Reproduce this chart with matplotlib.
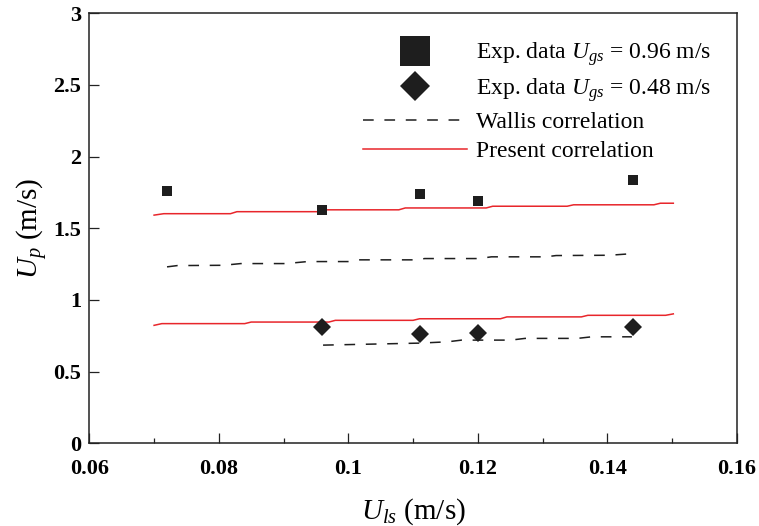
import matplotlib
matplotlib.use('Agg')
import matplotlib.pyplot as plt
from matplotlib.lines import Line2D
from matplotlib.ticker import MultipleLocator, FuncFormatter

plt.rcParams['font.family'] = ['Liberation Serif', 'DejaVu Serif']
plt.rcParams['mathtext.fontset'] = 'custom'
plt.rcParams['mathtext.rm'] = 'Liberation Serif'
plt.rcParams['mathtext.it'] = 'Liberation Serif:italic'

# experimental data
exp_x_096 = [0.072, 0.096, 0.111, 0.120, 0.144]
exp_y_096 = [1.758, 1.629, 1.741, 1.688, 1.839]

exp_x_048 = [0.096, 0.111, 0.120, 0.144]
exp_y_048 = [0.814, 0.762, 0.772, 0.814]

# Wallis correlation
wal_x_096 = [0.0720, 0.0736, 0.0807, 0.0834, 0.0904, 0.0937, 0.1002, 0.1018,
             0.1105, 0.1118, 0.1202, 0.1221, 0.1305, 0.1321, 0.1403, 0.1435]
wal_y_096 = [1.231, 1.240, 1.242, 1.254, 1.254, 1.268, 1.268, 1.280,
             1.280, 1.289, 1.289, 1.301, 1.301, 1.310, 1.312, 1.322]

wal_x_048 = [0.0961, 0.1110, 0.1153, 0.1175, 0.1251, 0.1273, 0.1354, 0.1376, 0.1438]
wal_y_048 = [0.685, 0.699, 0.708, 0.720, 0.720, 0.732, 0.732, 0.743, 0.743]

# present correlation
pre_x_096 = [0.0700, 0.0715, 0.0818, 0.0828, 0.0955, 0.0965, 0.1078, 0.1088,
             0.1213, 0.1223, 0.1338, 0.1348, 0.1472, 0.1482, 0.1502]
pre_y_096 = [1.592, 1.602, 1.602, 1.616, 1.616, 1.629, 1.629, 1.642,
             1.642, 1.654, 1.654, 1.664, 1.664, 1.675, 1.675]

pre_x_048 = [0.0700, 0.0712, 0.0840, 0.0850, 0.0970, 0.0980, 0.1100, 0.1110,
             0.1235, 0.1245, 0.1360, 0.1370, 0.1490, 0.1502]
pre_y_048 = [0.823, 0.835, 0.835, 0.846, 0.846, 0.858, 0.858, 0.869,
             0.869, 0.882, 0.882, 0.893, 0.893, 0.903]

red = '#e8262b'
dark = '#1e1e1e'
dash = (0, (7.0, 7.0))

fig = plt.figure(figsize=(7.59, 5.26), dpi=100)
ax = fig.add_axes([0.1177, 0.1572, 0.8530, 0.8175])

ax.plot(pre_x_096, pre_y_096, color=red, lw=1.1, zorder=2)
ax.plot(pre_x_048, pre_y_048, color=red, lw=1.1, zorder=2)
ax.plot(wal_x_096, wal_y_096, color=dark, lw=1.1, linestyle=dash, zorder=2)
ax.plot(wal_x_048, wal_y_048, color=dark, lw=1.1, linestyle=dash, zorder=2)
ax.plot(exp_x_096, exp_y_096, 's', color=dark, ms=7.4, mew=0, zorder=3)
ax.plot(exp_x_048, exp_y_048, 'D', color=dark, ms=8.8, mew=0, zorder=3)

ax.set_xlim(0.06, 0.16)
ax.set_ylim(0, 3)
ax.xaxis.set_major_locator(MultipleLocator(0.02))
ax.xaxis.set_minor_locator(MultipleLocator(0.01))
ax.yaxis.set_major_locator(MultipleLocator(0.5))
fmt = FuncFormatter(lambda v, p: '%g' % round(v, 4))
ax.xaxis.set_major_formatter(fmt)
ax.yaxis.set_major_formatter(fmt)

ax.tick_params(axis='both', which='both', direction='in', top=False, right=False,
               width=0.9, color='#222222')
ax.tick_params(axis='both', which='major', length=7.5, labelsize=16)
ax.tick_params(axis='x', which='major', pad=11.5)
ax.tick_params(axis='y', which='major', pad=6)
ax.tick_params(axis='x', which='minor', length=3.8)
for lab in ax.get_xticklabels() + ax.get_yticklabels():
    lab.set_fontweight('bold')
for s in ax.spines.values():
    s.set_linewidth(1.1)
    s.set_color('#222222')

ax.set_xlabel('$U_{ls}$ (m/s)', fontsize=21, labelpad=12)
ax.set_ylabel('$U_{p}$ (m/s)', fontsize=21, labelpad=2)

handles = [
    Line2D([], [], marker='s', ls='none', color=dark, ms=22, mew=0),
    Line2D([], [], marker='D', ls='none', color=dark, ms=15.5, mew=0),
    Line2D([], [], color=dark, lw=1.1, linestyle=dash),
    Line2D([], [], color=red, lw=1.1),
]
labels = ['Exp. data $U_{gs}$ = 0.96 m/s',
          'Exp. data $U_{gs}$ = 0.48 m/s',
          'Wallis correlation',
          'Present correlation']
ax.legend(handles, labels, loc='upper left', bbox_to_anchor=(0.4228, 0.937),
          frameon=False, fontsize=17, handlelength=4.4, handletextpad=0.4,
          labelspacing=0.33, borderpad=0, borderaxespad=0)

fig.savefig('out.png', dpi=100)
